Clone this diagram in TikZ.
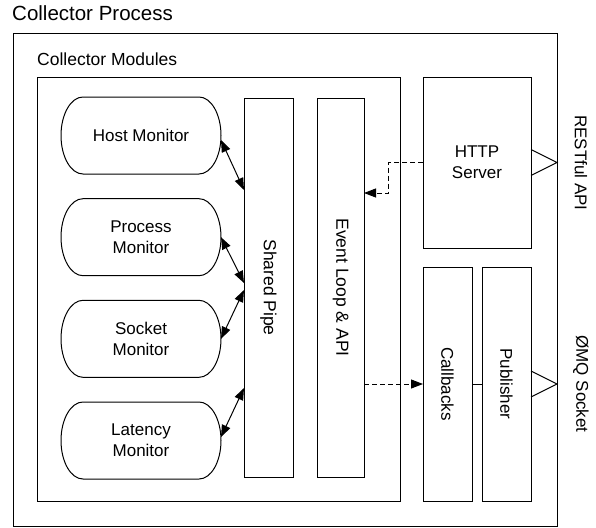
\documentclass[tikz,border=0pt]{standalone}
\usepackage{fontspec}
\setmainfont{Liberation Sans}
\usetikzlibrary{arrows.meta,calc}
\begin{document}
\begin{tikzpicture}[x=1pt,y=-1pt,
  box/.style={draw, line width=1pt, rectangle, inner sep=0pt, outer sep=0pt},
  txt/.style={font=\fontsize{17}{21}\selectfont, align=center, inner sep=0pt},
  vtxt/.style={txt, rotate=-90},
  monitor/.style={rectangle, inner sep=0pt, outer sep=0pt, minimum width=160pt,
    minimum height=77pt, font=\fontsize{17}{21}\selectfont, align=center},
  tip/.tip={Triangle[length=12pt,width=9pt]},
  link/.style={line width=1pt, tip-tip},
  flow/.style={line width=1pt, dash pattern=on 5pt off 3pt, -tip},
  port/.style={line width=1pt, line join=miter}
]
\useasboundingbox (0,0) rectangle (596,527);

% titles
\node[anchor=base west, inner sep=0pt, font=\fontsize{20.5}{24}\selectfont] (ptitle) at (12,21) {Collector Process};

% containers
\node[box, minimum width=544pt, minimum height=492pt] (outer) at (285,280) {};
\node[box, minimum width=363pt, minimum height=424pt] (modules) at (218.5,289) {};
\node[anchor=base west, inner sep=0pt, font=\fontsize{17.5}{21}\selectfont] (mtitle) at (37,65) {Collector Modules};

% pipe and event loop
\node[box, minimum width=49pt, minimum height=379pt] (pipe) at (268.5,287.5) {};
\node[vtxt, font=\fontsize{17.5}{21}\selectfont] (pipetxt) at (pipe.center) {Shared Pipe};
\node[box, minimum width=47pt, minimum height=379pt] (ev) at (340.5,287.5) {};
\node[vtxt, font=\fontsize{17.5}{21}\selectfont] (evtxt) at (ev.center) {Event Loop \& API};

% right-hand components
\node[box, minimum width=108pt, minimum height=171pt] (http) at (477,162.5) {};
\node[txt] (httptxt) at (http.center) {HTTP\\Server};
\node[box, minimum width=49pt, minimum height=234pt] (cb) at (447.5,384) {};
\node[vtxt] (cbtxt) at (cb.center) {Callbacks};
\node[box, minimum width=49pt, minimum height=234pt] (pub) at (506.5,384) {};
\node[vtxt] (pubtxt) at (pub.center) {Publisher};

% monitors
\node[monitor] (host) at (141,135.5) {Host Monitor};
\node[monitor] (proc) at (141,237.2) {Process\\Monitor};
\node[monitor] (sock) at (141,338.8) {Socket\\Monitor};
\node[monitor] (lat)  at (141,440.5) {Latency\\Monitor};
\foreach \m in {host,proc,sock,lat}{
  \draw[line width=1pt]
    ([xshift=22pt]\m.north west) -- ([xshift=-22pt]\m.north east)
    arc[start angle=90,end angle=-90,x radius=22pt,y radius=38.5pt]
    -- ([xshift=22pt]\m.south west)
    arc[start angle=270,end angle=90,x radius=22pt,y radius=38.5pt]
    -- cycle;
}

% monitor <-> shared pipe
\draw[link] ([yshift=-4.5pt]host.east) -- ([yshift=97.5pt]pipe.west);
\draw[link] (proc.east) -- ([yshift=4.5pt]pipe.west);
\draw[link] (sock.east) -- ([yshift=-2.5pt]pipe.west);
\draw[link] ([yshift=3.5pt]lat.east) -- ([yshift=-100.5pt]pipe.west);

% event flows
\coordinate (evin) at ([yshift=94.5pt]ev.east);
\draw[flow] (http.west) -| ([xshift=24pt]evin) -- (evin);
\draw[flow] (ev.east |- cb.west) -- (cb.west);
\draw[line width=1pt] (cb.east) -- (pub.west);

% external ports
\draw[port] ([yshift=13pt]http.east) -- (outer.east |- http.east) -- ([yshift=-13pt]http.east);
\draw[port] ([yshift=13pt]pub.east) -- (outer.east |- pub.east) -- ([yshift=-13pt]pub.east);
\node[vtxt] (rest) at (581,163) {RESTful API};
\node[vtxt] (zmq) at (581,384) {ØMQ Socket};
\end{tikzpicture}
\end{document}
